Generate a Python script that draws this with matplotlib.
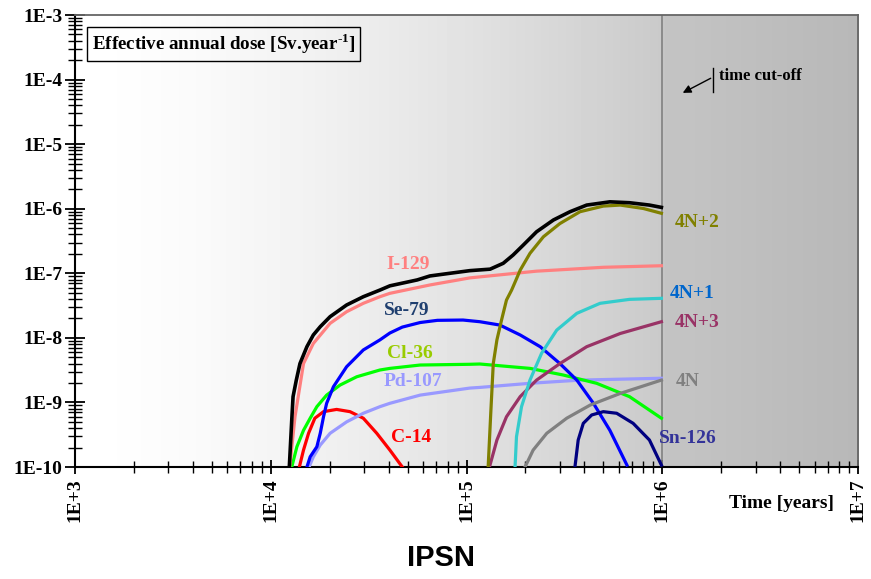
import numpy as np
import matplotlib.pyplot as plt
from matplotlib.ticker import FixedLocator, NullFormatter

plt.rcParams['font.family'] = ['Liberation Serif', 'DejaVu Serif']
plt.rcParams['font.weight'] = 'bold'
plt.rcParams['mathtext.fontset'] = 'custom'
plt.rcParams['mathtext.rm'] = 'Liberation Serif:bold'
plt.rcParams['mathtext.bf'] = 'Liberation Serif:bold'

# dose curves: time [years], dose [Sv/year]
total_t = [1.244e4, 1.28e4, 1.30e4, 1.35e4, 1.41e4, 1.53e4, 1.65e4, 1.79e4, 2.01e4,
           2.44e4, 2.97e4, 3.61e4, 4.06e4, 5.6e4, 6.5e4, 8.2e4, 1.04e5, 1.32e5,
           1.54e5, 1.73e5, 1.95e5, 2.28e5, 2.78e5, 3.38e5, 4.11e5, 5.4e5, 6.8e5,
           8.6e5, 9.9e5]
total_d = [1e-10, 5.3e-10, 1.23e-9, 2.2e-9, 4.0e-9, 7.3e-9, 1.11e-8, 1.49e-8, 2.13e-8,
           3.23e-8, 4.34e-8, 5.5e-8, 6.4e-8, 7.9e-8, 9.1e-8, 1.0e-7, 1.10e-7, 1.16e-7,
           1.43e-7, 1.92e-7, 2.74e-7, 4.4e-7, 6.7e-7, 9.0e-7, 1.14e-6, 1.28e-6, 1.24e-6,
           1.14e-6, 1.05e-6]

i129_t = [1.25e4, 1.33e4, 1.47e4, 1.65e4, 2.01e4, 2.44e4, 2.97e4, 3.61e4, 4.06e4,
          6.5e4, 9.3e4, 1.04e5, 2.28e5, 5.0e5, 9.9e5]
i129_d = [1e-10, 6.0e-10, 4.0e-9, 8.2e-9, 1.68e-8, 2.54e-8, 3.43e-8, 4.34e-8, 4.9e-8,
          6.6e-8, 8.0e-8, 8.5e-8, 1.08e-7, 1.24e-7, 1.31e-7]

se79_t = [1.53e4, 1.59e4, 1.72e4, 1.79e4, 1.86e4, 1.93e4, 2.09e4, 2.44e4, 2.97e4,
          3.61e4, 4.06e4, 4.7e4, 5.8e4, 7.1e4, 9.6e4, 1.17e5, 1.48e5, 1.88e5, 2.38e5,
          3.0e5, 3.66e5, 4.45e5, 5.4e5, 6.6e5]
se79_d = [1e-10, 1.44e-10, 2.06e-10, 3.33e-10, 6.0e-10, 9.7e-10, 1.75e-9, 3.57e-9,
          6.5e-9, 9.3e-9, 1.19e-8, 1.47e-8, 1.73e-8, 1.87e-8, 1.89e-8, 1.78e-8, 1.58e-8,
          1.11e-8, 7.3e-9, 4.0e-9, 2.22e-9, 9.7e-10, 3.7e-10, 1.07e-10]

cl36_t = [1.28e4, 1.36e4, 1.47e4, 1.59e4, 1.72e4, 1.93e4, 2.26e4, 2.75e4, 3.61e4,
          4.06e4, 5.8e4, 1.04e5, 1.17e5, 2.11e5, 3.12e5, 4.62e5, 6.8e5, 9.9e5]
cl36_d = [1e-10, 2.06e-10, 3.7e-10, 5.7e-10, 8.6e-10, 1.30e-9, 1.86e-9, 2.5e-9, 3.18e-9,
          3.37e-9, 3.8e-9, 3.9e-9, 3.94e-9, 3.37e-9, 2.66e-9, 1.98e-9, 1.23e-9, 5.7e-10]

pd107_t = [1.57e4, 1.65e4, 1.79e4, 2.01e4, 2.44e4, 2.97e4, 3.61e4, 4.06e4, 5.8e4,
           1.04e5, 1.17e5, 2.11e5, 3.8e5, 9.9e5]
pd107_d = [1e-10, 1.44e-10, 2.19e-10, 3.33e-10, 5.0e-10, 6.8e-10, 8.6e-10, 9.7e-10,
           1.3e-9, 1.67e-9, 1.71e-9, 1.98e-9, 2.22e-9, 2.37e-9]

c14_t = [1.40e4, 1.47e4, 1.56e4, 1.68e4, 1.86e4, 2.17e4, 2.54e4, 2.97e4, 3.48e4,
         4.06e4, 4.7e4]
c14_d = [1e-10, 1.83e-10, 3.33e-10, 5.7e-10, 7.2e-10, 7.8e-10, 7.2e-10, 5.7e-10,
         3.33e-10, 1.83e-10, 1e-10]

n42_t = [1.29e5, 1.33e5, 1.37e5, 1.43e5, 1.51e5, 1.60e5, 1.70e5, 1.79e5, 1.88e5,
         2.11e5, 2.47e5, 3.0e5, 3.8e5, 5.0e5, 6.1e5, 8.0e5, 9.9e5]
n42_d = [1e-10, 6.8e-10, 4.0e-9, 9.3e-9, 1.89e-8, 3.85e-8, 5.5e-8, 7.9e-8, 1.12e-7,
         2.04e-7, 3.68e-7, 5.9e-7, 9.0e-7, 1.10e-6, 1.14e-6, 1.01e-6, 8.5e-7]

n41_t = [1.77e5, 1.80e5, 1.91e5, 2.11e5, 2.42e5, 2.89e5, 3.66e5, 4.81e5, 6.8e5, 9.9e5]
n41_d = [1e-10, 2.94e-10, 8.6e-10, 2.22e-9, 5.8e-9, 1.32e-8, 2.4e-8, 3.43e-8, 3.95e-8,
         4.1e-8]

n43_t = [1.31e5, 1.43e5, 1.60e5, 1.88e5, 2.28e5, 3.0e5, 4.11e5, 6.1e5, 9.9e5]
n43_d = [1e-10, 2.62e-10, 6.0e-10, 1.23e-9, 2.22e-9, 4.0e-9, 7.3e-9, 1.17e-8, 1.78e-8]

n4_t = [1.99e5, 2.19e5, 2.57e5, 3.25e5, 4.28e5, 6.1e5, 9.9e5]
n4_d = [1e-10, 1.83e-10, 3.33e-10, 5.7e-10, 9.1e-10, 1.38e-9, 2.22e-9]

sn126_t = [3.58e5, 3.72e5, 3.95e5, 4.36e5, 5.0e5, 5.85e5, 7.1e5, 8.6e5, 9.9e5]
sn126_d = [1e-10, 2.62e-10, 4.75e-10, 6.4e-10, 7.2e-10, 6.8e-10, 4.75e-10, 2.62e-10,
           1.07e-10]

x_ticks = [1e3, 1e4, 1e5, 1e6, 1e7]
x_labels = ['1E+3', '1E+4', '1E+5', '1E+6', '1E+7']
y_ticks = [1e-10, 1e-9, 1e-8, 1e-7, 1e-6, 1e-5, 1e-4, 1e-3]
y_labels = ['1E-10', '1E-9', '1E-8', '1E-7', '1E-6', '1E-5', '1E-4', '1E-3']
cutoff = 1e6

# (times, doses, line colour, label, label colour, label position in axes fraction)
series = [
    (c14_t, c14_d, '#FF0000', 'C-14', '#FF0000', (0.429, 0.066)),
    (pd107_t, pd107_d, '#9999FF', 'Pd-107', '#9999FF', (0.432, 0.190)),
    (cl36_t, cl36_d, '#00FF00', 'Cl-36', '#99CC00', (0.428, 0.252)),
    (se79_t, se79_d, '#0000FF', 'Se-79', '#1F3F6F', (0.424, 0.347)),
    (i129_t, i129_d, '#FF8080', 'I-129', '#FF8080', (0.425, 0.449)),
    (n4_t, n4_d, '#808080', '4N', '#808080', (0.782, 0.190)),
    (n43_t, n43_d, '#993366', '4N+3', '#993366', (0.794, 0.319)),
    (n41_t, n41_d, '#33CCCC', '4N+1', '#0066CC', (0.788, 0.383)),
    (sn126_t, sn126_d, '#000080', 'Sn-126', '#333399', (0.783, 0.064)),
    (n42_t, n42_d, '#808000', '4N+2', '#808000', (0.794, 0.542)),
]

fig = plt.figure(figsize=(8.71, 5.79), dpi=100)
ax = fig.add_axes([0.0861, 0.1934, 0.8990, 0.7806])

# grey shading: gradient up to the cut-off, darker zone beyond it
cols = np.linspace(0, 1, 1000)
shade = np.where(cols < 0.75,
                 1 - 0.21 * (cols / 0.75) ** 1.5,
                 0.77 - 0.05 * (cols - 0.75) / 0.25)
ax.imshow(shade[np.newaxis, :], extent=[0, 1, 0, 1], transform=ax.transAxes,
          aspect='auto', cmap='gray', vmin=0, vmax=1, zorder=0, interpolation='nearest')

for t, d, c, lab, lc, pos in series:
    ax.plot(t, d, color=c, lw=2.3, solid_joinstyle='round', zorder=3)
    ax.text(pos[0], pos[1], lab, color=lc, fontsize=14, ha='center', va='center',
            transform=ax.transAxes)
ax.plot(total_t, total_d, color='black', lw=2.6, solid_joinstyle='round', zorder=4)

ax.axvline(cutoff, color='#808080', lw=1.2, zorder=2)

ax.set_xscale('log')
ax.set_yscale('log')
ax.set_xlim(1e3, 1e7)
ax.set_ylim(1e-10, 1e-3)

ax.xaxis.set_major_locator(FixedLocator(x_ticks))
ax.set_xticklabels(x_labels, rotation=90, fontsize=14)
ax.yaxis.set_major_locator(FixedLocator(y_ticks))
ax.set_yticklabels(y_labels, fontsize=14)
ax.xaxis.set_minor_formatter(NullFormatter())
ax.yaxis.set_minor_formatter(NullFormatter())
ax.tick_params(which='major', direction='inout', length=10, width=1.3, pad=3)
ax.tick_params(which='minor', direction='inout', length=8, width=1.0)
ax.tick_params(axis='y', which='major', length=14, pad=2)
ax.tick_params(axis='y', which='minor', length=10)

for side in ['left', 'bottom']:
    ax.spines[side].set_linewidth(1.5)
    ax.spines[side].set_color('black')
ax.spines['top'].set_color('#666666')
ax.spines['right'].set_color('#666666')
ax.spines['top'].set_linewidth(1.3)
ax.spines['right'].set_linewidth(1.3)

ax.text(0.0217, 0.936, r'Effective annual dose [Sv.year$^{\text{-1}}$]', fontsize=13.7,
        ha='left', va='center', transform=ax.transAxes, zorder=5,
        bbox=dict(boxstyle='square,pad=0.25', facecolor='none', edgecolor='black', lw=1))

# time cut-off marker
ax.plot([0.815, 0.815], [0.830, 0.883], color='black', lw=1, transform=ax.transAxes)
ax.annotate('', xy=(0.773, 0.825), xytext=(0.815, 0.863), xycoords='axes fraction',
            arrowprops=dict(arrowstyle='-|>', color='black', lw=1, mutation_scale=12))
ax.text(0.822, 0.865, 'time cut-off', fontsize=12, ha='left', va='center',
        transform=ax.transAxes)

ax.text(0.902, -0.080, 'Time [years]', fontsize=14, ha='center', va='center',
        transform=ax.transAxes)

fig.text(0.506, 0.036, 'IPSN', fontsize=21, fontweight='bold', ha='center', va='center',
         family=['Liberation Sans', 'DejaVu Sans'])

fig.savefig('out.png', dpi=100)
